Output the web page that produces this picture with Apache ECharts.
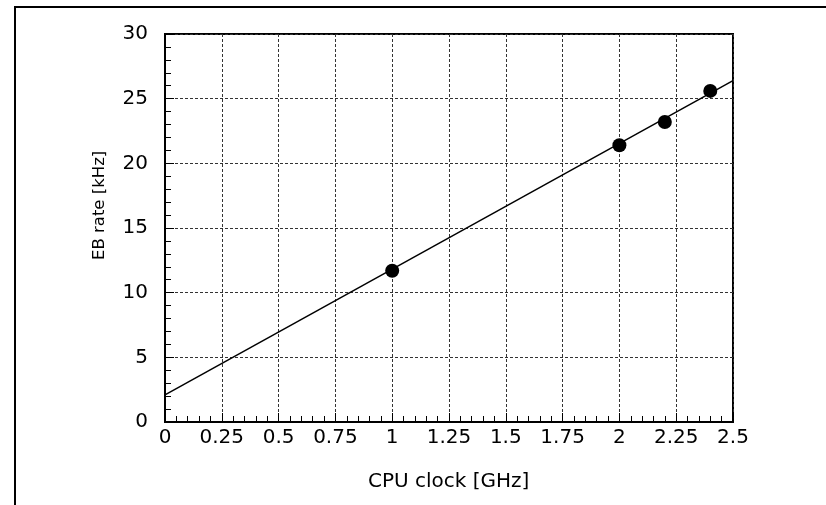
<!DOCTYPE html>
<html>
<head>
<meta charset="utf-8">
<script src="https://cdn.jsdelivr.net/npm/echarts@6/dist/echarts.min.js"></script>
<style>
    html, body { margin: 0; padding: 0; background: #fff; }
    #main { width: 826px; height: 505px; }
</style>
</head>
<body>
<div id="main"></div>
<script>
// 测量点 (CPU clock GHz, EB rate kHz)
var clockGHz = [1, 2, 2.2, 2.4];
var rateKHz = [11.7, 21.4, 23.2, 25.6];
// 拟合直线两端
var fitX = [0, 2.5];
var fitY = [2.1, 26.4];

var fontFamily = 'DejaVu Sans';

var dom = document.getElementById('main');
var chart = echarts.init(dom);

var points = clockGHz.map(function (x, i) { return [x, rateKHz[i]]; });
var fitLine = fitX.map(function (x, i) { return [x, fitY[i]]; });

var option = {
    backgroundColor: '#fff',
    animation: false,
    grid: {
        left: 165,
        top: 34,
        right: 93,
        bottom: 83,
        show: true,
        borderColor: '#000',
        borderWidth: 2,
        backgroundColor: 'transparent'
    },
    graphic: [
        // 外框 (右、下边超出画面)
        {
            type: 'rect',
            shape: { x: 15, y: 7, width: 900, height: 600 },
            style: { fill: 'none', stroke: '#000', lineWidth: 2 },
            silent: true
        },
        {
            type: 'text',
            left: 368,
            top: 472,
            style: { text: 'CPU clock [GHz]', font: '20px "DejaVu Sans"', fill: '#000' }
        },
        {
            type: 'text',
            x: 91,
            y: 260,
            rotation: Math.PI / 2,
            style: { text: 'EB rate [kHz]', font: '16.5px "DejaVu Sans"', fill: '#000', verticalAlign: 'top' }
        }
    ],
    xAxis: {
        type: 'value',
        min: 0,
        max: 2.5,
        interval: 0.25,
        axisLine: { show: true, lineStyle: { color: '#000', width: 2 } },
        axisTick: { show: true, inside: true, length: 9, lineStyle: { color: '#000', width: 1 } },
        minorTick: { show: true, splitNumber: 5, length: 6, lineStyle: { color: '#000', width: 1 } },
        axisLabel: { color: '#000', fontFamily: fontFamily, fontSize: 20, margin: 6 },
        splitLine: { show: true, lineStyle: { color: '#333', width: 1, type: [3, 2] } }
    },
    yAxis: {
        type: 'value',
        min: 0,
        max: 30,
        interval: 5,
        axisLine: { show: true, lineStyle: { color: '#000', width: 2 } },
        axisTick: { show: true, inside: true, length: 9, lineStyle: { color: '#000', width: 1 } },
        minorTick: { show: true, splitNumber: 5, length: 6, lineStyle: { color: '#000', width: 1 } },
        axisLabel: { color: '#000', fontFamily: fontFamily, fontSize: 20, margin: 17 },
        splitLine: { show: true, lineStyle: { color: '#333', width: 1, type: [3, 2] } }
    },
    series: [
        {
            name: 'fit',
            type: 'line',
            data: fitLine,
            symbol: 'none',
            lineStyle: { color: '#000', width: 1.5 },
            z: 2
        },
        {
            name: 'EB rate',
            type: 'scatter',
            data: points,
            symbol: 'circle',
            symbolSize: 14,
            itemStyle: { color: '#000', opacity: 1 },
            z: 3
        }
    ]
};
if (option && typeof option === 'object') {
    chart.setOption(option, true);
}
</script>
</body>
</html>
